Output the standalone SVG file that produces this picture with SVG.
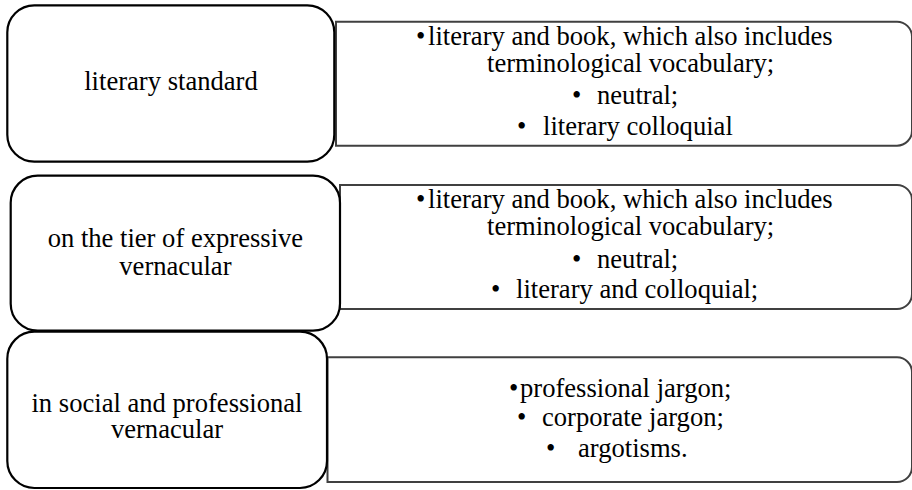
<svg xmlns="http://www.w3.org/2000/svg" width="912" height="490" viewBox="0 0 912 490">
<style>
.bg{fill:#ffffff}
.lbox{fill:#ffffff;stroke:#000000;stroke-width:2.2}
.rbox{fill:#ffffff;stroke:#404040;stroke-width:2}
.t{font-family:"Liberation Serif","Times New Roman",serif;font-size:26.6px;fill:#000000}
.c{text-anchor:middle}
</style>
<rect class="bg" x="0" y="0" width="912" height="490"/>
<g id="connectors"></g>
<g id="detail1">
<path class="rbox" d="M336,21.7 H897 A15,15 0 0 1 912,36.7 V130.7 A15,15 0 0 1 897,145.7 H336 Z"/>
<text class="t" x="416" y="45">•</text><text class="t" x="428" y="45">literary and book, which also includes</text>
<text class="t" x="487" y="72">terminological vocabulary;</text>
<text class="t" x="572" y="104">•</text><text class="t" x="597" y="104">neutral;</text>
<text class="t" x="517" y="135">•</text><text class="t" x="543" y="135">literary colloquial</text>
</g>
<g id="detail2">
<path class="rbox" d="M340,185 H897 A15,15 0 0 1 912,200 V294 A15,15 0 0 1 897,309 H340 Z"/>
<text class="t" x="416" y="208">•</text><text class="t" x="428" y="208">literary and book, which also includes</text>
<text class="t" x="487" y="235">terminological vocabulary;</text>
<text class="t" x="572" y="268">•</text><text class="t" x="597" y="268">neutral;</text>
<text class="t" x="491" y="298">•</text><text class="t" x="516" y="298">literary and colloquial;</text>
</g>
<g id="detail3">
<path class="rbox" d="M327.5,357.3 H897 A15,15 0 0 1 912,372.3 V467 A15,15 0 0 1 897,482 H327.5 Z"/>
<text class="t" x="509" y="397">•</text><text class="t" x="520" y="397">professional jargon;</text>
<text class="t" x="517" y="426">•</text><text class="t" x="542" y="426">corporate jargon;</text>
<text class="t" x="546" y="457">•</text><text class="t" x="578" y="457">argotisms.</text>
</g>
<g id="tier1">
<rect class="lbox" x="7.3" y="5.3" width="327" height="156.4" rx="27" ry="27"/>
<text class="t c" x="171" y="90">literary standard</text>
</g>
<g id="tier2">
<rect class="lbox" x="10.7" y="175.7" width="329.3" height="155" rx="27" ry="27"/>
<text class="t c" x="175.4" y="247.3">on the tier of expressive</text>
<text class="t c" x="175.4" y="275">vernacular</text>
</g>
<g id="tier3">
<rect class="lbox" x="7.3" y="331.7" width="319.7" height="156.3" rx="27" ry="27"/>
<text class="t c" x="167" y="411.7">in social and professional</text>
<text class="t c" x="167" y="438.3">vernacular</text>
</g>
</svg>
